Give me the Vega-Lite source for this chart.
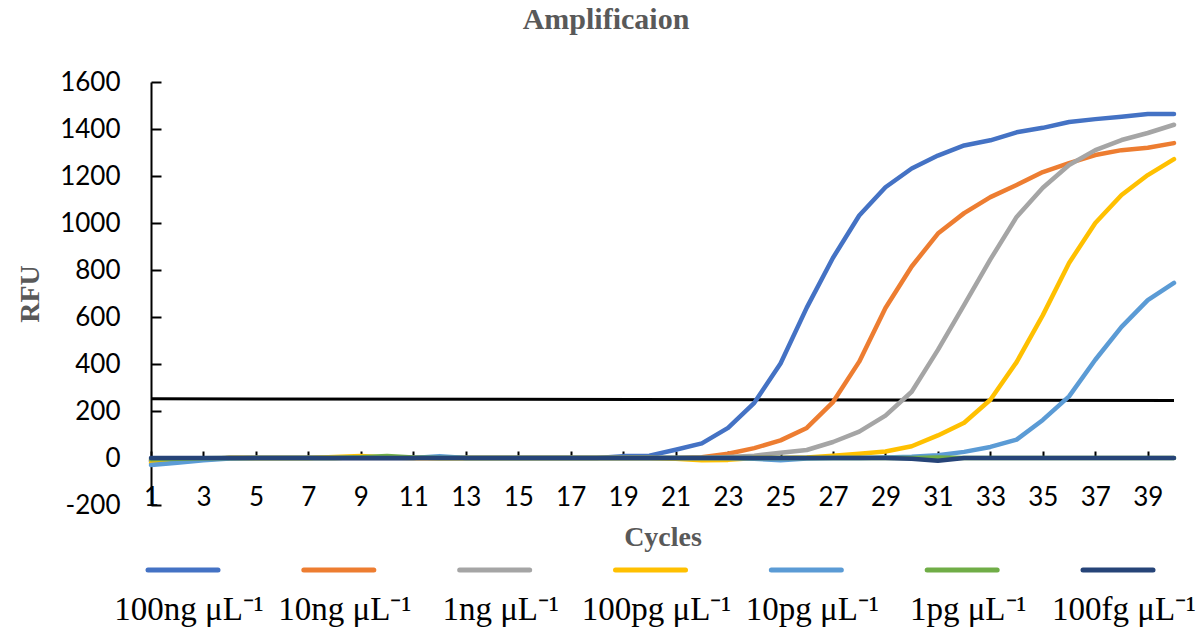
{
  "$schema": "https://vega.github.io/schema/vega-lite/v6.json",
  "background": "white",
  "padding": {"left": 16, "top": 5, "right": 5, "bottom": 5},
  "title": {"text": "Amplificaion", "font": "Liberation Serif", "fontSize": 30, "fontWeight": "bold", "color": "#595959", "anchor": "middle", "frame": "bounds", "offset": 34},
  "config": {"view": {"stroke": null}, "font": "Lato"},
  "spacing": 9,
  "vconcat": [
    {
      "width": 1023,
      "height": 423,
      "layer": [
        {
          "data": {"values": [{"x": 1, "y": 252, "x2": 40, "y2": 245}]},
          "mark": {"type": "rule", "color": "black", "strokeWidth": 3},
          "encoding": {
            "x": {"field": "x", "type": "quantitative"},
            "y": {"field": "y", "type": "quantitative"},
            "x2": {"field": "x2"},
            "y2": {"field": "y2"}
          }
        },
        {
          "data": {"values": [
            {"c": 1, "ng100": -15, "ng10": -10, "ng1": -10, "pg100": -22, "pg10": -30, "pg1": -5, "fg100": 0},
            {"c": 2, "ng100": -10, "ng10": -6, "ng1": -6, "pg100": -14, "pg10": -20, "pg1": -3, "fg100": 0},
            {"c": 3, "ng100": -5, "ng10": -3, "ng1": -3, "pg100": -6, "pg10": -10, "pg1": -1, "fg100": 0},
            {"c": 4, "ng100": 0, "ng10": 0, "ng1": 0, "pg100": 0, "pg10": -2, "pg1": 0, "fg100": 0},
            {"c": 5, "ng100": 0, "ng10": 0, "ng1": 0, "pg100": 0, "pg10": 0, "pg1": 0, "fg100": 0},
            {"c": 6, "ng100": 0, "ng10": 0, "ng1": 0, "pg100": 0, "pg10": 0, "pg1": 0, "fg100": 0},
            {"c": 7, "ng100": 0, "ng10": 0, "ng1": 0, "pg100": 0, "pg10": 0, "pg1": 0, "fg100": 0},
            {"c": 8, "ng100": 0, "ng10": 0, "ng1": 0, "pg100": 4, "pg10": 0, "pg1": 0, "fg100": 0},
            {"c": 9, "ng100": 0, "ng10": 0, "ng1": 0, "pg100": 8, "pg10": 0, "pg1": 3, "fg100": 0},
            {"c": 10, "ng100": 0, "ng10": 0, "ng1": 0, "pg100": 2, "pg10": 0, "pg1": 9, "fg100": 0},
            {"c": 11, "ng100": 0, "ng10": 0, "ng1": 0, "pg100": 0, "pg10": 0, "pg1": 2, "fg100": 0},
            {"c": 12, "ng100": 0, "ng10": 0, "ng1": 0, "pg100": 0, "pg10": 8, "pg1": 0, "fg100": 0},
            {"c": 13, "ng100": 0, "ng10": 0, "ng1": 0, "pg100": 0, "pg10": 0, "pg1": 0, "fg100": 0},
            {"c": 14, "ng100": 0, "ng10": 0, "ng1": 0, "pg100": 0, "pg10": 0, "pg1": 0, "fg100": 0},
            {"c": 15, "ng100": 0, "ng10": 0, "ng1": 0, "pg100": 0, "pg10": 0, "pg1": 0, "fg100": 0},
            {"c": 16, "ng100": 0, "ng10": 0, "ng1": 0, "pg100": 0, "pg10": 0, "pg1": 0, "fg100": 0},
            {"c": 17, "ng100": 0, "ng10": 0, "ng1": 0, "pg100": 0, "pg10": 0, "pg1": 0, "fg100": 0},
            {"c": 18, "ng100": 0, "ng10": 0, "ng1": 0, "pg100": 0, "pg10": 0, "pg1": 0, "fg100": 0},
            {"c": 19, "ng100": 8, "ng10": 0, "ng1": 0, "pg100": 0, "pg10": 0, "pg1": 0, "fg100": 0},
            {"c": 20, "ng100": 10, "ng10": 0, "ng1": 0, "pg100": 0, "pg10": 0, "pg1": 0, "fg100": 0},
            {"c": 21, "ng100": 35, "ng10": 0, "ng1": 0, "pg100": -3, "pg10": 0, "pg1": 0, "fg100": 0},
            {"c": 22, "ng100": 62, "ng10": 3, "ng1": 0, "pg100": -10, "pg10": 0, "pg1": 0, "fg100": 0},
            {"c": 23, "ng100": 128, "ng10": 18, "ng1": 4, "pg100": -8, "pg10": 0, "pg1": 0, "fg100": 0},
            {"c": 24, "ng100": 235, "ng10": 42, "ng1": 10, "pg100": 0, "pg10": -3, "pg1": 0, "fg100": 0},
            {"c": 25, "ng100": 402, "ng10": 75, "ng1": 22, "pg100": 0, "pg10": -10, "pg1": 0, "fg100": 0},
            {"c": 26, "ng100": 640, "ng10": 128, "ng1": 34, "pg100": 2, "pg10": -2, "pg1": 0, "fg100": 0},
            {"c": 27, "ng100": 852, "ng10": 238, "ng1": 68, "pg100": 10, "pg10": 0, "pg1": 0, "fg100": 0},
            {"c": 28, "ng100": 1032, "ng10": 410, "ng1": 112, "pg100": 18, "pg10": 0, "pg1": 0, "fg100": 0},
            {"c": 29, "ng100": 1152, "ng10": 638, "ng1": 180, "pg100": 28, "pg10": 2, "pg1": 0, "fg100": 0},
            {"c": 30, "ng100": 1232, "ng10": 815, "ng1": 282, "pg100": 50, "pg10": 5, "pg1": 0, "fg100": -3},
            {"c": 31, "ng100": 1287, "ng10": 955, "ng1": 460, "pg100": 96, "pg10": 12, "pg1": 2, "fg100": -12},
            {"c": 32, "ng100": 1330, "ng10": 1042, "ng1": 652, "pg100": 150, "pg10": 26, "pg1": 0, "fg100": 0},
            {"c": 33, "ng100": 1352, "ng10": 1110, "ng1": 845, "pg100": 248, "pg10": 47, "pg1": 0, "fg100": 0},
            {"c": 34, "ng100": 1386, "ng10": 1162, "ng1": 1026, "pg100": 408, "pg10": 78, "pg1": 0, "fg100": 0},
            {"c": 35, "ng100": 1405, "ng10": 1217, "ng1": 1150, "pg100": 608, "pg10": 162, "pg1": 0, "fg100": 0},
            {"c": 36, "ng100": 1430, "ng10": 1255, "ng1": 1247, "pg100": 830, "pg10": 262, "pg1": 0, "fg100": 0},
            {"c": 37, "ng100": 1442, "ng10": 1289, "ng1": 1310, "pg100": 1000, "pg10": 418, "pg1": 0, "fg100": 0},
            {"c": 38, "ng100": 1452, "ng10": 1310, "ng1": 1353, "pg100": 1119, "pg10": 558, "pg1": 0, "fg100": 0},
            {"c": 39, "ng100": 1464, "ng10": 1320, "ng1": 1383, "pg100": 1204, "pg10": 672, "pg1": 0, "fg100": 0},
            {"c": 40, "ng100": 1464, "ng10": 1340, "ng1": 1418, "pg100": 1272, "pg10": 745, "pg1": 0, "fg100": 0}
          ]},
          "transform": [{"fold": ["ng100", "ng10", "ng1", "pg100", "pg10", "pg1", "fg100"], "as": ["s", "v"]}],
          "mark": {"type": "line", "strokeWidth": 4.5, "strokeCap": "round", "strokeJoin": "round"},
          "encoding": {
            "x": {
              "field": "c", "type": "quantitative",
              "scale": {"domain": [1, 40], "nice": false, "zero": false},
              "axis": {
                "values": [1, 3, 5, 7, 9, 11, 13, 15, 17, 19, 21, 23, 25, 27, 29, 31, 33, 35, 37, 39],
                "offset": -47, "grid": false,
                "domainColor": "black", "domainWidth": 2,
                "tickSize": -7, "tickColor": "black", "tickWidth": 2,
                "labelFont": "Lato", "labelFontSize": 26, "labelColor": "black",
                "labelPadding": 46, "labelBaseline": "middle", "labelFlush": false, "labelOverlap": false,
                "title": "Cycles", "titleFont": "Liberation Serif", "titleFontSize": 28, "titleFontWeight": "bold",
                "titleColor": "#595959", "titleY": 79, "titleBaseline": "middle"
              }
            },
            "y": {
              "field": "v", "type": "quantitative",
              "scale": {"domain": [-200, 1600], "nice": false},
              "axis": {
                "values": [-200, 0, 200, 400, 600, 800, 1000, 1200, 1400, 1600],
                "labelExpr": "'' + datum.value",
                "grid": false,
                "domainColor": "black", "domainWidth": 2,
                "tickSize": -10, "tickColor": "black", "tickWidth": 2,
                "labelFont": "Lato", "labelFontSize": 26, "labelColor": "black",
                "labelPadding": 41, "labelFlush": false, "labelOverlap": false,
                "title": "RFU", "titleFont": "Liberation Serif", "titleFontSize": 28, "titleFontWeight": "bold",
                "titleColor": "#595959", "titleX": -121, "titleBaseline": "middle"
              }
            },
            "color": {
              "field": "s", "type": "nominal",
              "scale": {
                "domain": ["ng100", "ng10", "ng1", "pg100", "pg10", "pg1", "fg100"],
                "range": ["#4472C4", "#ED7D31", "#A5A5A5", "#FFC000", "#5B9BD5", "#70AD47", "#264478"]
              },
              "legend": null
            }
          }
        }
      ]
    },
    {
      "width": 1023,
      "height": 20,
      "data": {"values": [
        {"s": "ng100", "label": "100ng μL⁻¹"},
        {"s": "ng10", "label": "10ng μL⁻¹"},
        {"s": "ng1", "label": "1ng μL⁻¹"},
        {"s": "pg100", "label": "100pg μL⁻¹"},
        {"s": "pg10", "label": "10pg μL⁻¹"},
        {"s": "pg1", "label": "1pg μL⁻¹"},
        {"s": "fg100", "label": "100fg μL⁻¹"}
      ]},
      "encoding": {
        "x": {
          "field": "s", "type": "nominal", "sort": null,
          "scale": {"type": "point", "domain": ["ng100", "ng10", "ng1", "pg100", "pg10", "pg1", "fg100"], "range": [32, 967], "padding": 0},
          "axis": null
        }
      },
      "layer": [
        {
          "mark": {"type": "point", "shape": "M-1,0L1,0", "size": 4900, "strokeWidth": 5, "strokeCap": "round", "filled": false, "opacity": 1},
          "encoding": {
            "color": {
              "field": "s", "type": "nominal",
              "scale": {
                "domain": ["ng100", "ng10", "ng1", "pg100", "pg10", "pg1", "fg100"],
                "range": ["#4472C4", "#ED7D31", "#A5A5A5", "#FFC000", "#5B9BD5", "#70AD47", "#264478"]
              },
              "legend": null
            }
          }
        },
        {
          "mark": {"type": "text", "font": "Liberation Serif", "fontSize": 33, "align": "center", "baseline": "alphabetic", "dx": 6, "dy": 50, "color": "black"},
          "encoding": {"text": {"field": "label"}}
        }
      ]
    }
  ]
}
